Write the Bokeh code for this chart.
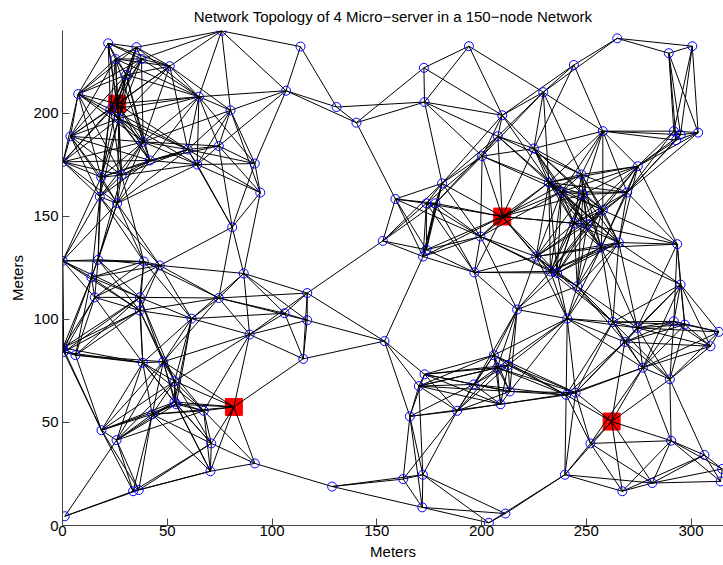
import math
from bokeh.plotting import figure
from bokeh.models import Range1d, FixedTicker
from bokeh.embed import file_html
from bokeh.resources import INLINE

TITLE = "Network Topology of 4 Micro\u2212server in a 150\u2212node Network"

node_x = [21.8, 35.3, 25.3, 37.7, 51.2, 75.9, 30.4, 7.5, 65.1, 106.7, 80.2, 22.9, 26.9, 3.8, 38.5, 59.8,
          74.6, 0.3, 41.7, 64.3, 91.8, 18.5, 28.2, 94.4, 17.8, 26.1, 81.0, 0.1, 17.0, 38.8, 46.4, 86.5,
          13.8, 15.4, 36.9, 36.9, 74.6, 61.6, 106.0, 89.3, 0.2, 0.6, 6.2, 38.3, 48.1, 53.5, 53.5, 54.3,
          67.4, 42.8, 18.6, 25.8, 71.0, 91.8, 70.6, 33.7, 36.4, 1.1,
          113.6, 130.8, 140.3, 172.5, 194.0, 172.8, 209.9, 207.8, 200.3, 181.2, 158.9, 173.7, 178.0,
          199.5, 152.9, 173.7, 172.1, 196.6,
          116.8, 116.8, 114.9, 153.7, 172.8, 170.1, 165.8, 188.4, 196.3, 205.9, 207.5, 209.1, 128.7,
          162.6, 172.0, 171.7, 211.4, 203.5,
          264.8, 289.4, 300.6, 244.1, 229.5, 257.9, 291.8, 295.0, 292.9, 303.4, 225.0, 274.6, 247.7,
          232.1, 238.2, 248.4, 269.5, 257.9, 244.1, 250.4, 265.5, 293.4, 257.1, 226.1, 232.9, 236.1,
          245.7, 295.0, 217.0, 240.9, 262.7, 274.3, 291.8, 297.0, 313.3, 309.3, 268.4, 277.0, 289.9,
          212.7, 240.4, 244.9, 252.0, 290.5, 306.4, 239.8, 267.2, 281.5, 314.1, 314.9, 213.5]
node_y = [233.8, 231.9, 226.2, 226.2, 222.7, 239.8, 218.5, 209.2, 207.9, 210.8, 201.3, 201.8, 197.3, 188.7,
          186.0, 182.3, 184.0, 176.3, 177.0, 175.0, 175.5, 168.9, 169.9, 161.4, 159.4, 156.2, 144.6,
          128.3, 128.8, 128.0, 126.1, 122.2,
          120.3, 110.6, 110.6, 104.2, 110.3, 100.3, 102.9, 92.6, 86.1, 84.1, 82.6, 78.9, 79.4, 70.0,
          59.9, 58.8, 55.6, 53.9, 46.2, 41.4, 39.8, 30.1, 26.3, 16.6, 17.2, 4.5,
          232.2, 202.9, 195.3, 221.9, 232.4, 205.3, 198.9, 188.7, 179.1, 165.9, 158.3, 156.2, 156.2,
          140.1, 138.0, 133.7, 130.4, 122.7,
          112.7, 99.5, 80.8, 89.4, 73.3, 67.6, 52.9, 55.6, 68.4, 82.6, 76.5, 58.8, 18.9, 22.5, 24.6,
          8.8, 5.8, 1.3,
          236.2, 229.0, 232.4, 223.3, 210.1, 191.2, 191.2, 189.5, 186.8, 190.5, 182.8, 174.2, 170.2,
          166.3, 161.8, 160.5, 161.5, 152.9, 146.5, 146.0, 137.2, 136.4, 134.8, 130.4, 123.2, 122.4,
          116.0, 116.8, 104.7, 100.3, 98.7, 95.8, 99.0, 97.4, 93.9, 86.9, 89.0, 76.5, 70.9,
          77.8, 63.3, 64.4, 39.8, 41.1, 34.2, 24.6, 16.6, 20.6, 21.4, 27.4, 65.0]

server_x = [26.1, 81.8, 209.9, 262.1]
server_y = [204.5, 57.5, 149.8, 50.4]

RADIO_RANGE = 45.0

x_ticks = [0, 50, 100, 150, 200, 250, 300]
y_ticks = [0, 50, 100, 150, 200]

all_x = node_x + server_x
all_y = node_y + server_y
ex0, ey0, ex1, ey1 = [], [], [], []
n = len(all_x)
for i in range(n):
    for j in range(i + 1, n):
        if math.hypot(all_x[i] - all_x[j], all_y[i] - all_y[j]) <= RADIO_RANGE:
            ex0.append(all_x[i]); ey0.append(all_y[i])
            ex1.append(all_x[j]); ey1.append(all_y[j])

FONT = "Liberation Sans"

p = figure(width=723, height=565, output_backend="svg", toolbar_location=None,
           x_range=Range1d(0, 315.5), y_range=Range1d(0, 240),
           min_border_left=62, min_border_right=0, min_border_bottom=40, min_border_top=28)
p.title.text = TITLE
p.title.align = "center"
p.title.text_font = FONT
p.title.text_font_size = "15px"
p.title.text_font_style = "normal"
p.title.text_color = "black"
p.title.standoff = 11
p.title.offset = 5
p.outline_line_color = None
p.xgrid.visible = False
p.ygrid.visible = False

p.scatter(server_x, server_y, marker="square", size=17, fill_color="#ff0000", line_color="#ff0000")
p.segment(x0=ex0, y0=ey0, x1=ex1, y1=ey1, line_color="black", line_width=1.0)
p.scatter(node_x, node_y, marker="circle", size=9, fill_color=None, line_color="#0000ff", line_width=1.0)

for ax in (p.xaxis[0], p.yaxis[0]):
    ax.axis_line_color = "#444444"
    ax.major_tick_line_color = "#444444"
    ax.major_tick_in = 7
    ax.major_tick_out = 0
    ax.minor_tick_in = 0
    ax.minor_tick_out = 0
    ax.major_label_text_font = FONT
    ax.major_label_text_font_size = "15px"
    ax.major_label_text_color = "black"
    ax.axis_label_text_font = FONT
    ax.axis_label_text_font_size = "15px"
    ax.axis_label_text_font_style = "normal"
    ax.axis_label_text_color = "black"
p.xaxis.ticker = FixedTicker(ticks=x_ticks)
p.yaxis.ticker = FixedTicker(ticks=y_ticks)
p.xaxis.axis_label = "Meters"
p.yaxis.axis_label = "Meters"
p.xaxis.major_label_standoff = 0
p.yaxis.major_label_standoff = 4
p.xaxis.axis_label_standoff = 4
p.yaxis.axis_label_standoff = 4

open("out.html", "w").write(file_html(p, INLINE))
